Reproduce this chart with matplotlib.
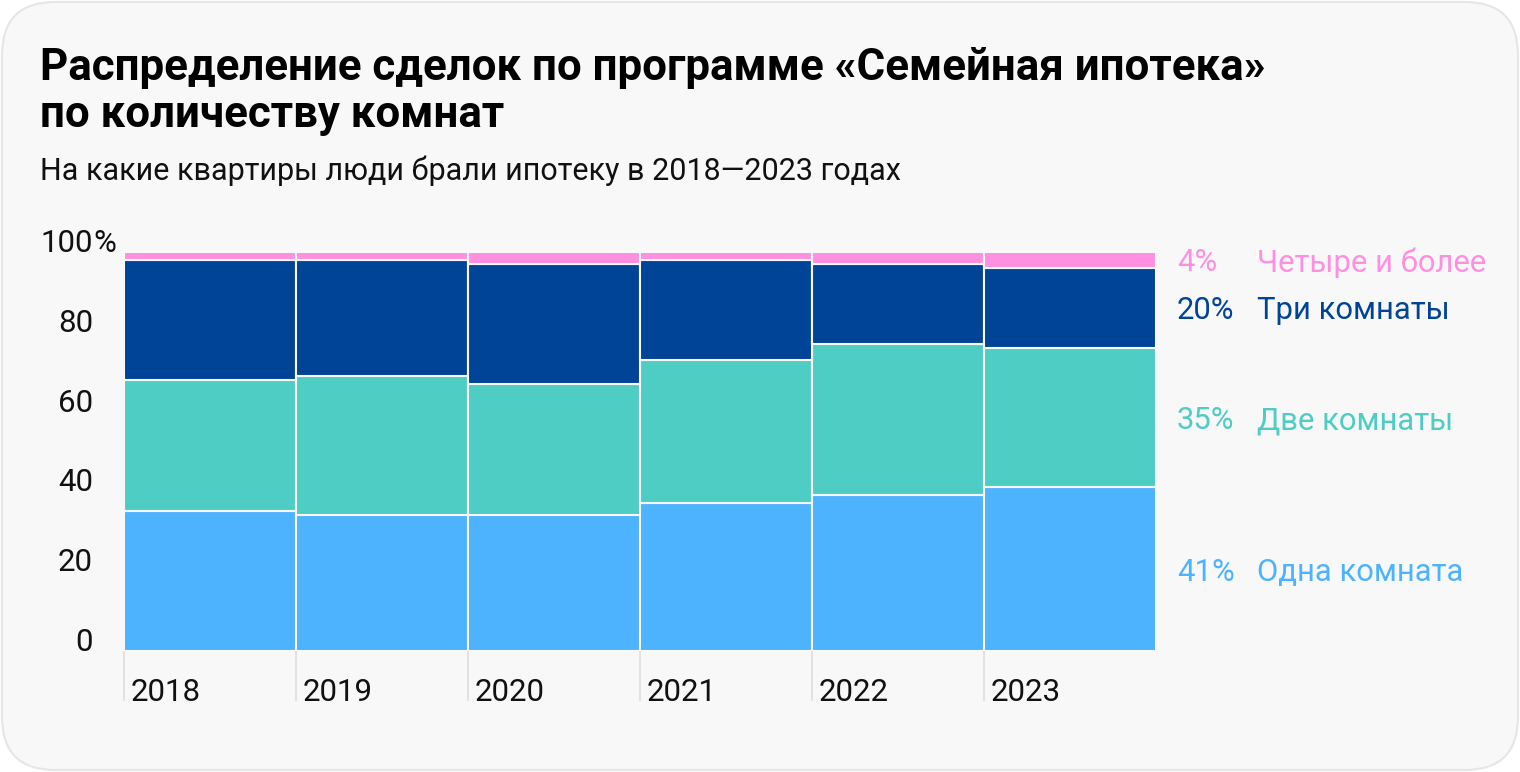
import matplotlib.pyplot as plt
from matplotlib.patches import FancyBboxPatch

years = ["2018", "2019", "2020", "2021", "2022", "2023"]
one_room = [35, 34, 34, 37, 39, 41]
two_rooms = [33, 35, 33, 36, 38, 35]
three_rooms = [30, 29, 30, 25, 20, 20]
four_plus = [2, 2, 3, 2, 3, 4]

series_names = ["Одна комната", "Две комнаты", "Три комнаты", "Четыре и более"]
colors = ["#4DB3FF", "#4ECDC4", "#004497", "#FF8FE1"]
y_ticks = [0, 20, 40, 60, 80, 100]

plt.rcParams["font.family"] = ["Roboto", "DejaVu Sans"]

W, H = 1520, 772
fig = plt.figure(figsize=(W / 100, H / 100), dpi=100, facecolor="white")

# rounded card background
card = FancyBboxPatch((2 / W, 2 / H), (W - 4) / W, (H - 4) / H,
                      boxstyle="round,pad=0,rounding_size=0.035",
                      transform=fig.transFigure, facecolor="#F8F8F8",
                      edgecolor="#E6E6E6", linewidth=1.5, mutation_aspect=W / H,
                      zorder=-10)
fig.patches.append(card)

fig.text(40 / W, 1 - 80 / H, "Распределение сделок по программе «Семейная ипотека»",
         fontsize=31.6, fontweight="bold", color="black", va="baseline")
fig.text(40 / W, 1 - 127 / H, "по количеству комнат",
         fontsize=31.6, fontweight="bold", color="black", va="baseline")
fig.text(40 / W, 1 - 180 / H, "На какие квартиры люди брали ипотеку в 2018—2023 годах",
         fontsize=22, color="#111111", va="baseline")

ax = fig.add_axes([124 / W, (H - 651) / H, 1032 / W, 399 / H])
ax.set_facecolor("none")

x = list(range(len(years)))
bottom = [0] * len(years)
for vals, col in zip([one_room, two_rooms, three_rooms, four_plus], colors):
    ax.bar(x, vals, bottom=bottom, width=1.0, color=col, edgecolor="#F8F8F8",
           linewidth=1.5)
    bottom = [b + v for b, v in zip(bottom, vals)]

ax.set_xlim(-0.5, len(years) - 0.5)
ax.set_ylim(0, 100)
for s in ax.spines.values():
    s.set_visible(False)
ax.set_yticks([])
ax.set_xticks([i - 0.5 for i in x])
ax.set_xticklabels([])
ax.tick_params(axis="x", length=36, width=1.5, color="#E2E2E2", direction="out")

for i, yr in enumerate(years):
    ax.annotate(yr, (i - 0.5, 0), xytext=(7, -50), textcoords="offset pixels",
                fontsize=22.5, color="#111111", ha="left", va="baseline",
                annotation_clip=False)

for t in y_ticks:
    ax.annotate(str(t), (-0.5, t), xytext=(-31, 0), textcoords="offset pixels",
                fontsize=22.5, color="#111111", ha="right", va="baseline",
                annotation_clip=False)
    if t == 100:
        ax.annotate("%", (-0.5, t), xytext=(-31, 0), textcoords="offset pixels",
                    fontsize=22.5, color="#111111", ha="left", va="baseline",
                    annotation_clip=False)

# right-side labels at the middle of 2023 segments
last = [one_room[-1], two_rooms[-1], three_rooms[-1], four_plus[-1]]
base = 0
for v, name, col in zip(last, series_names, colors):
    mid = base + v / 2
    base += v
    ax.annotate(f"{v}%", (len(years) - 0.5, mid), xytext=(21, -3),
                textcoords="offset pixels", fontsize=22.3, color=col,
                ha="left", va="center", annotation_clip=False)
    ax.annotate(name, (len(years) - 0.5, mid), xytext=(101, -3),
                textcoords="offset pixels", fontsize=22.3, color=col,
                ha="left", va="center", annotation_clip=False)

fig.savefig("out.png", dpi=100, facecolor="white")
